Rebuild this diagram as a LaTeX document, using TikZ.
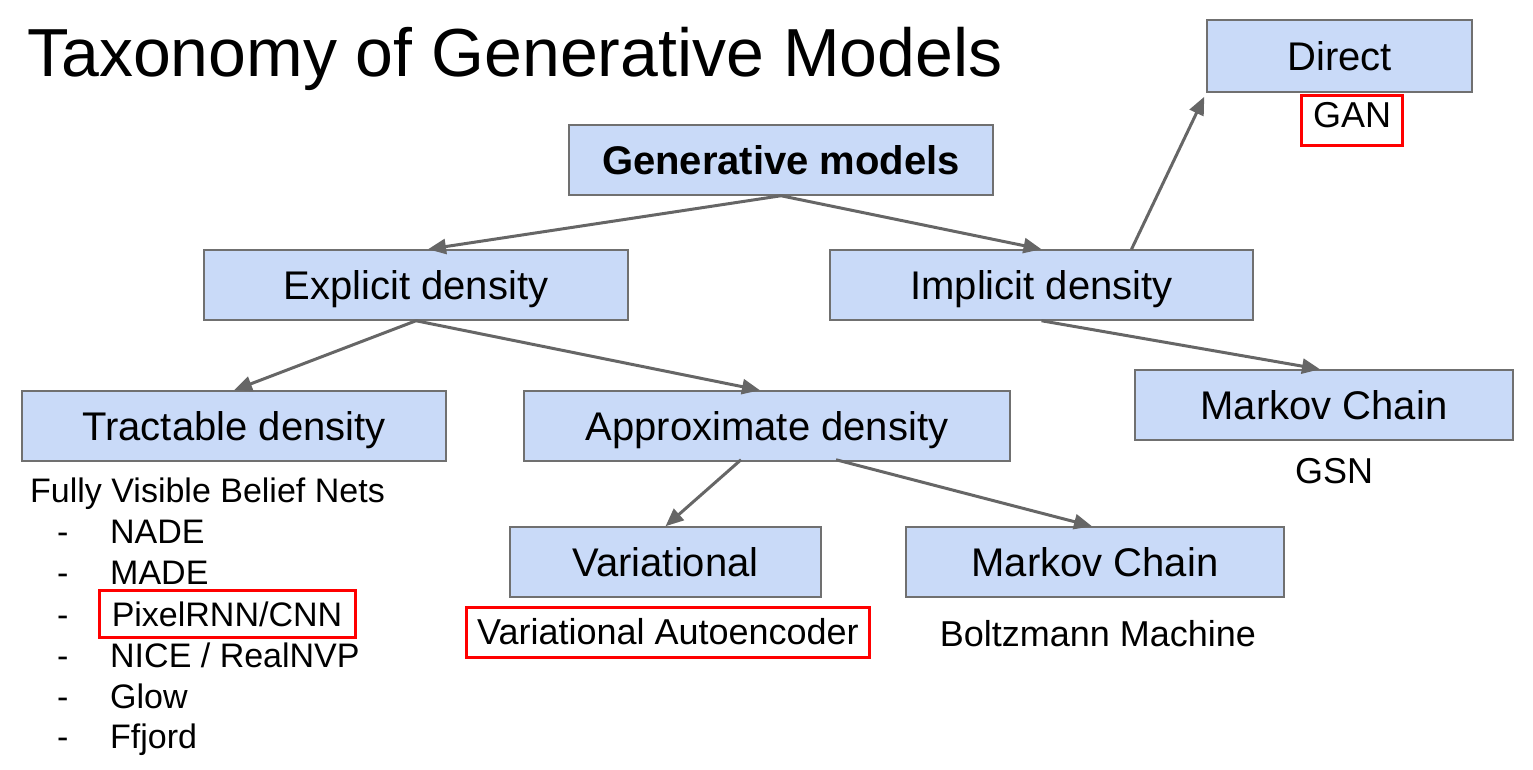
\documentclass[tikz,border=0pt]{standalone}
\usepackage{fontspec}
\setmainfont{Liberation Sans}
\usetikzlibrary{arrows.meta}
\definecolor{boxfill}{HTML}{C9DAF8}
\definecolor{boxline}{HTML}{707070}
\definecolor{arrowgray}{HTML}{666666}
\definecolor{hilite}{HTML}{FF0000}
\tikzset{
  catbox/.style={draw=boxline, line width=1.5pt, fill=boxfill, minimum height=70pt,
    inner sep=0pt, text height=28.6pt, text depth=0pt, font=\fontsize{40}{48}\selectfont},
  link/.style={draw=arrowgray, line width=3pt, -{Triangle[length=18pt,width=15pt]}},
  note/.style={inner sep=0pt, anchor=base, font=\fontsize{36}{43}\selectfont},
  listtxt/.style={inner sep=0pt, anchor=base west, font=\fontsize{34}{40}\selectfont},
  redframe/.style={draw=hilite, line width=3pt, inner sep=0pt, anchor=base}
}
\begin{document}
\begin{tikzpicture}[x=1pt, y=-1pt]
  \useasboundingbox (0,0) rectangle (1533,770);

  % heading
  \node[inner sep=0pt, anchor=base west, font=\fontsize{68}{80}\selectfont]
    (title) at (27,77) {Taxonomy of Generative Models};

  % category boxes
  \node[catbox, minimum width=424pt, font=\fontsize{40}{48}\selectfont\bfseries]
    (gen) at (781,160) {Generative models};
  \node[catbox, minimum width=424pt] (expl) at (416,285) {Explicit density};
  \node[catbox, minimum width=423pt] (impl) at (1041.5,285) {Implicit density};
  \node[catbox, minimum width=265pt, minimum height=72pt] (direct) at (1339.5,56) {Direct};
  \node[catbox, minimum width=424pt] (tract) at (234,426) {Tractable density};
  \node[catbox, minimum width=486pt] (approx) at (767,426) {Approximate density};
  \node[catbox, minimum width=378pt] (mcright) at (1324,405) {Markov Chain};
  \node[catbox, minimum width=311pt] (var) at (665.5,562) {Variational};
  \node[catbox, minimum width=378pt] (mcmid) at (1095,562) {Markov Chain};

  % model examples under the boxes
  \node[note, redframe, minimum width=101pt, text height=32pt, text depth=18pt,
    font=\fontsize{36}{43}\selectfont] (gan) at (1352,128) {GAN};
  \node[note] (gsn) at (1334,483) {GSN};
  \node[note, redframe, minimum width=403pt, text height=37pt, text depth=13pt,
    font=\fontsize{36}{43}\selectfont] (vae) at (668,644) {Variational Autoencoder};
  \node[note] (boltz) at (1098,646) {Boltzmann Machine};

  % list of tractable-density models
  \node[listtxt] (fvbn) at (30,502) {Fully Visible Belief Nets};
  \node[listtxt] (d1) at (57,543) {-};
  \node[listtxt] (nade) at (110,543) {NADE};
  \node[listtxt] (d2) at (57,584) {-};
  \node[listtxt] (made) at (110,584) {MADE};
  \node[listtxt] (d3) at (57,626) {-};
  \node[redframe, minimum width=256pt, text height=36pt, text depth=11pt,
    font=\fontsize{34}{40}\selectfont] (pixel) at (227,626) {PixelRNN/CNN};
  \node[listtxt] (d4) at (57,667) {-};
  \node[listtxt] (nice) at (110,667) {NICE / RealNVP};
  \node[listtxt] (d5) at (57,708) {-};
  \node[listtxt] (glow) at (110,708) {Glow};
  \node[listtxt] (d6) at (57,748) {-};
  \node[listtxt] (ffjord) at (110,748) {Ffjord};

  % connectors
  \draw[link] (gen.south) -- ([xshift=12pt]expl.north);
  \draw[link] (gen.south) -- (impl.north);
  \draw[link] (expl.south) -- (tract.north);
  \draw[link] (expl.south) -- ([xshift=-7pt]approx.north);
  \draw[link] (impl.south) -- ([xshift=-4pt]mcright.north);
  \draw[link] ([xshift=90pt]impl.north) -- ([xshift=-2pt,yshift=-4pt]direct.south west);
  \draw[link] ([xshift=-26pt,yshift=2pt]approx.south) -- (var.north);
  \draw[link] ([xshift=69pt,yshift=2pt]approx.south) -- ([xshift=-3pt]mcmid.north);
\end{tikzpicture}
\end{document}
